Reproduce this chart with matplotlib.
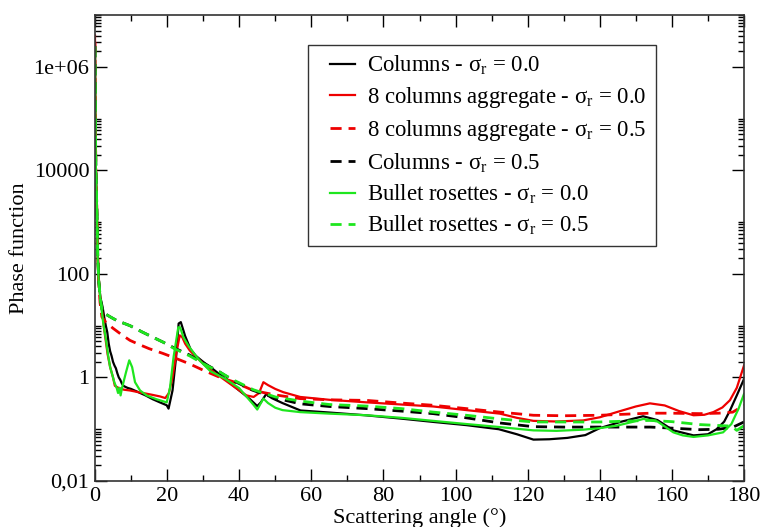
import matplotlib
matplotlib.use("Agg")
import matplotlib.pyplot as plt
from matplotlib.ticker import FixedLocator, FixedFormatter, NullFormatter
from matplotlib.legend_handler import HandlerLine2D
import numpy as np

plt.rcParams['font.family'] = ['Liberation Serif', 'DejaVu Serif']
plt.rcParams['mathtext.fontset'] = 'custom'
plt.rcParams['mathtext.rm'] = 'Liberation Serif'
plt.rcParams['mathtext.it'] = 'Liberation Serif:italic'

# ---------------- data ----------------
cols0_x = [0, 0.1, 0.25, 0.5, 0.75, 1.0, 1.5, 2.1, 2.6, 3.0, 3.4, 3.8, 4.2, 4.6, 5.0, 5.4, 5.8,
           6.2, 6.6, 7.0, 7.5, 8.0, 9, 10, 12, 14, 16, 18, 19.9, 20.4, 21.5, 22.5, 23.2, 23.8,
           25, 26.5, 28, 30, 33, 36, 40, 43, 45, 46, 47.5, 49, 52, 57, 65, 75, 85, 94, 103, 112,
           117, 121.6, 126, 131, 136, 140, 146, 152, 156, 160.4, 166, 170, 172.4, 174.5, 176.1,
           178, 180]
cols0_y = [2.5e6, 1e5, 1e4, 2000, 200, 79, 35, 23, 14, 10, 7.5, 4.5, 3.2, 2.6, 2.0, 1.7, 1.5,
           1.2, 1.0, 0.9, 0.75, 0.68, 0.63, 0.6, 0.52, 0.45, 0.38, 0.33, 0.29, 0.25, 0.56, 2.5,
           11, 11.7, 6.3, 3.5, 2.6, 2.0, 1.4, 0.95, 0.56, 0.38, 0.28, 0.33, 0.48, 0.4, 0.32, 0.23,
           0.21, 0.186, 0.16, 0.138, 0.12, 0.1, 0.08, 0.063, 0.064, 0.068, 0.077, 0.105, 0.14,
           0.178, 0.15, 0.095, 0.076, 0.08, 0.1, 0.14, 0.229, 0.45, 0.93]

agg0_x = [0, 0.1, 0.25, 0.5, 0.75, 1.0, 1.5, 2.0, 2.5, 3.0, 3.5, 4.2, 5.0, 5.5, 6.5, 8, 9.7, 12,
          14, 16, 18, 19.5, 20.5, 21.5, 22.5, 23.5, 24.2, 25, 26.3, 28, 31, 35, 39, 42, 44, 45.5,
          46.7, 48, 50, 52.2, 56.9, 65, 75.4, 85, 93.8, 103, 112.3, 117, 121.6, 128, 135.4, 140,
          144.7, 150, 153.9, 158, 162, 166, 169, 171.5, 174, 176.1, 178, 180]
agg0_y = [4e6, 1e5, 1e4, 2000, 250, 79, 32, 18, 8.9, 5.0, 2.8, 1.58, 1.0, 0.69, 0.63, 0.58, 0.56,
          0.52, 0.49, 0.46, 0.43, 0.40, 0.5, 1.0, 2.8, 6.5, 6.0, 4.5, 3.3, 2.5, 1.58, 1.0, 0.63,
          0.45, 0.42, 0.5, 0.81, 0.71, 0.6, 0.52, 0.42, 0.37, 0.33, 0.30, 0.275, 0.234, 0.2,
          0.166, 0.145, 0.141, 0.148, 0.17, 0.214, 0.275, 0.316, 0.288, 0.224, 0.186, 0.19,
          0.214, 0.263, 0.363, 0.63, 1.7]

agg05_x = [0, 0.1, 0.25, 0.5, 0.75, 1.0, 1.4, 1.9, 3, 5, 7.5, 9.7, 12, 15, 18.9, 22, 26.3, 30,
           34.7, 38.3, 43.9, 50, 56.9, 65, 75.4, 85, 93.8, 103, 112.3, 121.6, 130, 140, 147,
           153.9, 160, 167.7, 173, 176.9, 180]
agg05_y = [3e6, 1e5, 1e4, 2000, 250, 79, 28, 14.8, 11.7, 8.9, 6.6, 5.2, 4.4, 3.6, 2.9, 2.4, 1.82,
           1.38, 1.0, 0.83, 0.56, 0.46, 0.39, 0.37, 0.36, 0.32, 0.29, 0.25, 0.214, 0.186, 0.182,
           0.186, 0.195, 0.204, 0.204, 0.2, 0.204, 0.214, 0.29]

cols05_x = [0, 0.1, 0.25, 0.5, 0.75, 1.0, 1.5, 2.1, 4, 6, 9.7, 13, 16, 18.9, 22, 26.3, 30, 34.7,
            38.3, 43.9, 50, 56.9, 65, 75.4, 85, 93.8, 103, 112.3, 121.6, 130, 140, 147, 154,
            160, 167.7, 173, 177, 180]
cols05_y = [2.5e6, 1e5, 1e4, 2000, 250, 79, 32, 18.2, 15.1, 12.6, 10, 7.6, 6.0, 4.8, 3.7, 2.7,
            1.9, 1.26, 0.87, 0.56, 0.4, 0.31, 0.275, 0.25, 0.224, 0.2, 0.166, 0.132, 0.112,
            0.11, 0.11, 0.11, 0.11, 0.105, 0.098, 0.1, 0.11, 0.138]

bullet0_x = [0, 0.1, 0.25, 0.5, 0.75, 1.0, 1.5, 2.3, 3.0, 3.6, 4.2, 4.8, 5.4, 6.0, 6.4, 6.8, 7.1,
             7.5, 7.9, 8.6, 9.5, 10.3, 11.1, 12.5, 14.3, 17, 19.9, 20.8, 21.8, 23.1, 23.6, 24.5,
             26, 28, 29, 32, 36, 40, 43.9, 45, 46.7, 48, 50, 52, 56.9, 65, 75.4, 85, 93.8, 103,
             112.3, 121.6, 128, 135.4, 140, 144.7, 149, 152.1, 156, 160.4, 163, 166, 170, 174.2,
             176.5, 178.5, 180]
bullet0_y = [2e6, 1e5, 1e4, 2500, 200, 79, 32, 11, 5.6, 2.8, 1.58, 1.12, 0.79, 0.63, 0.5, 0.63,
             0.45, 0.63, 0.81, 1.26, 2.14, 1.58, 0.81, 0.56, 0.45, 0.38, 0.33, 0.63, 2.5, 9.3,
             9.3, 6.0, 4.0, 2.6, 2.14, 1.32, 0.95, 0.62, 0.3, 0.24, 0.39, 0.32, 0.26, 0.234,
             0.214, 0.2, 0.186, 0.166, 0.145, 0.126, 0.11, 0.095, 0.093, 0.098, 0.105, 0.117,
             0.138, 0.158, 0.141, 0.087, 0.076, 0.071, 0.076, 0.087, 0.126, 0.25, 0.48]

bullet05_x = [0, 0.1, 0.25, 0.5, 0.75, 1.0, 1.5, 2.1, 4, 6, 9.7, 13, 16, 18.9, 22, 26.3, 30, 34.7,
              38.3, 43.9, 50, 56.9, 65, 75.4, 85, 93.8, 103, 112.3, 121.6, 130, 140, 147, 154,
              160, 167.7, 174, 176.5, 178, 180]
bullet05_y = [2.5e6, 1e5, 1e4, 2000, 250, 79, 32, 18.2, 15.1, 12.6, 10, 7.6, 6.0, 4.8, 3.6, 2.6,
              1.85, 1.26, 0.9, 0.58, 0.42, 0.35, 0.3, 0.28, 0.25, 0.214, 0.186, 0.158, 0.138,
              0.138, 0.138, 0.143, 0.148, 0.14, 0.123, 0.117, 0.115, 0.095, 0.117]

labels = ["Columns - σ$_\\mathrm{r}$ = 0.0",
          "8 columns aggregate - σ$_\\mathrm{r}$ = 0.0",
          "8 columns aggregate - σ$_\\mathrm{r}$ = 0.5",
          "Columns - σ$_\\mathrm{r}$ = 0.5",
          "Bullet rosettes - σ$_\\mathrm{r}$ = 0.0",
          "Bullet rosettes - σ$_\\mathrm{r}$ = 0.5"]

x_ticks = [0, 20, 40, 60, 80, 100, 120, 140, 160, 180]
y_ticks = [0.01, 1, 100, 10000, 1e6]
y_tick_labels = ["0,01", "1", "100", "10000", "1e+06"]


class ShortLineHandler(HandlerLine2D):
    """Legend line drawn only in the right part of the handle box."""
    def get_xdata(self, legend, xdescent, ydescent, width, height, fontsize):
        xd = np.array([-xdescent + 0.35 * width, -xdescent + width])
        return xd, xd


# ---------------- plot ----------------
fig = plt.figure(figsize=(7.62, 5.27), dpi=100)
ax = fig.add_axes([95/762, 1-481/527, 649/762, 466/527])

GREEN = '#1ee61e'
RED = '#ee0000'
lw = 1.6
dash = (4, 2.5)
l1, = ax.plot(cols0_x, cols0_y, color='black', lw=lw, label=labels[0])
l2, = ax.plot(agg0_x, agg0_y, color=RED, lw=lw, label=labels[1])
l3, = ax.plot(agg05_x, agg05_y, color=RED, lw=2, dashes=dash, label=labels[2])
l4, = ax.plot(cols05_x, cols05_y, color='black', lw=2, dashes=dash, label=labels[3])
l5, = ax.plot(bullet0_x, bullet0_y, color=GREEN, lw=lw, label=labels[4])
l6, = ax.plot(bullet05_x, bullet05_y, color=GREEN, lw=2, dashes=dash, label=labels[5])

ax.set_yscale('log')
ax.set_xlim(0, 180)
ax.set_ylim(0.01, 1e7)

ax.xaxis.set_major_locator(FixedLocator(x_ticks))
ax.xaxis.set_minor_locator(FixedLocator([10, 30, 50, 70, 90, 110, 130, 150, 170]))
ax.yaxis.set_major_locator(FixedLocator(y_ticks))
ax.yaxis.set_major_formatter(FixedFormatter(y_tick_labels))
minor_y = [m * t for t in y_ticks for m in range(2, 11)]
ax.yaxis.set_minor_locator(FixedLocator(minor_y))
ax.yaxis.set_minor_formatter(NullFormatter())

ax.tick_params(which='both', direction='in', top=True, right=True, labelsize=16, width=1.0)
ax.tick_params(which='major', length=8.5, pad=4)
ax.tick_params(which='minor', length=4.5)
for s in ax.spines.values():
    s.set_linewidth(1.2)
    s.set_color('#333333')

ax.set_xlabel("Scattering angle (°)", fontsize=16, labelpad=2)
ax.set_ylabel("Phase function", fontsize=16, labelpad=3)

handler = ShortLineHandler()
leg = ax.legend(handles=[l1, l2, l3, l4, l5, l6],
                handler_map={l: handler for l in [l1, l2, l3, l4, l5, l6]},
                loc='upper left', bbox_to_anchor=((308-95)/649, (481-45)/466),
                borderaxespad=0, fontsize=16.4, frameon=True, fancybox=False,
                handlelength=1.65, handletextpad=0.55, labelspacing=0.35,
                borderpad=0.4)
leg.get_frame().set_edgecolor('black')
leg.get_frame().set_linewidth(1.0)

fig.savefig("out.png", dpi=100)
